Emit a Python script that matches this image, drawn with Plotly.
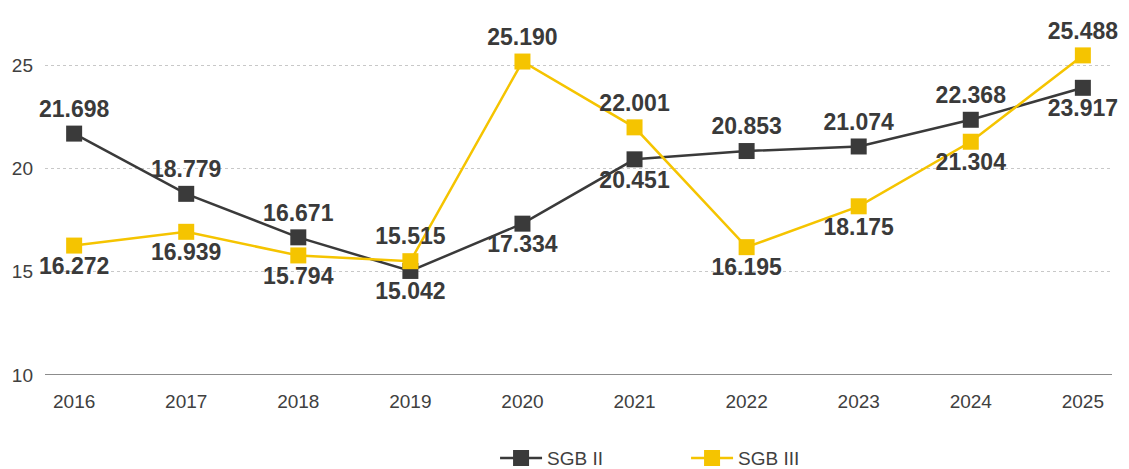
import plotly.graph_objects as go

years = ["2016", "2017", "2018", "2019", "2020", "2021", "2022", "2023", "2024", "2025"]
sgb2 = [21.698, 18.779, 16.671, 15.042, 17.334, 20.451, 20.853, 21.074, 22.368, 23.917]
sgb3 = [16.272, 16.939, 15.794, 15.515, 25.190, 22.001, 16.195, 18.175, 21.304, 25.488]
pos2 = ["top", "top", "top", "bottom", "bottom", "bottom", "top", "top", "top", "bottom"]
pos3 = ["bottom", "bottom", "bottom", "top", "top", "top", "bottom", "bottom", "bottom", "top"]

def fmt(v):
    return f"{v:.3f}"

fig = go.Figure()
for name, vals, pos, col in [("SGB II", sgb2, pos2, "#3a3a3a"), ("SGB III", sgb3, pos3, "#f5c400")]:
    fig.add_trace(go.Scatter(
        x=list(range(len(years))), y=vals, name=name, mode="lines+markers+text",
        line=dict(color=col, width=2.5),
        marker=dict(symbol="square", size=16, color=col),
        text=[fmt(v) for v in vals],
        textposition=[p + " center" for p in pos],
        textfont=dict(family="Liberation Sans, Arial, sans-serif", size=23, color="#3a3a3a", weight="bold"),
        cliponaxis=False,
    ))

fig.update_layout(
    width=1129, height=469,
    margin=dict(l=45, r=17, t=18, b=94, autoexpand=False),
    plot_bgcolor="white", paper_bgcolor="white",
    font=dict(family="Liberation Sans, Arial, sans-serif", size=19, color="#404040"),
    xaxis=dict(
        range=[-0.26, 9.26], tickmode="array", tickvals=list(range(len(years))), ticktext=years,
        showgrid=False, zeroline=False, showline=False, ticks="", ticklabelstandoff=13,
        automargin=False,
    ),
    yaxis=dict(
        range=[10, 27.3], tickvals=[10, 15, 20, 25], showgrid=True,
        gridcolor="#c8c8c8", griddash="dot", gridwidth=1, zeroline=False, showline=False,
        ticks="", ticklabelstandoff=11, automargin=False,
    ),
    showlegend=True,
    legend=dict(orientation="h", x=0.4218, xanchor="left", yref="container", y=0.023, yanchor="middle",
                itemwidth=42, entrywidth=134, entrywidthmode="pixels",
                font=dict(size=19, color="#404040")),
)
fig.add_shape(type="line", xref="paper", yref="y", x0=0, x1=1, y0=10, y1=10,
              line=dict(color="#8c8c8c", width=2), layer="below")

fig.write_html("out.html")
